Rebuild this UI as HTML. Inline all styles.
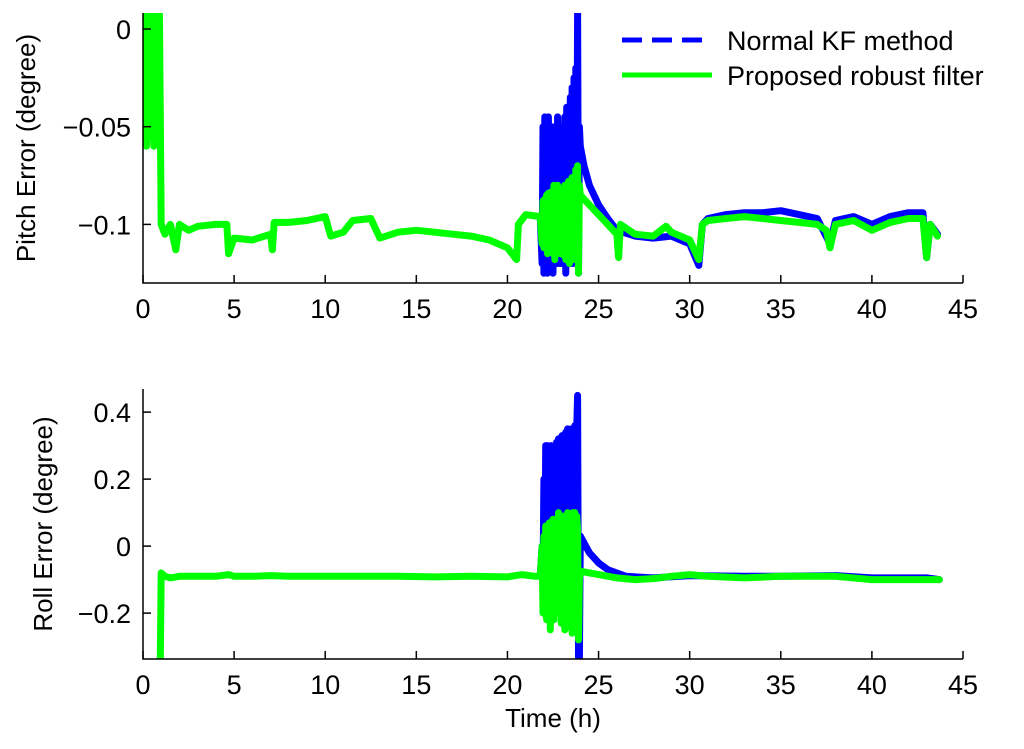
<!DOCTYPE html>
<html><head><meta charset="utf-8"><style>
body{margin:0;background:#fff;}
svg text{font-family:"Liberation Sans",Arial,sans-serif;fill:#000;}
</style></head><body>
<svg id="chart" width="1024" height="744" xmlns="http://www.w3.org/2000/svg">
<g id="top"></g>
<g id="bot"></g>
<g id="legend">
<line x1="622" y1="40" x2="712" y2="40" stroke="#0000ff" stroke-width="5" stroke-dasharray="20,10"/>
<text x="727" y="50" font-size="27">Normal KF method</text>
<line x1="622" y1="75" x2="712" y2="75" stroke="#00ff00" stroke-width="5"/>
<text x="727" y="85" font-size="27">Proposed robust filter</text>
</g>
</svg>
<script>
const xTicks=[0,5,10,15,20,25,30,35,40,45];
const pitchTicks=[0,-0.05,-0.1];
const pitchTickLabels=["0","\u22120.05","\u22120.1"];
const rollTicks=[0.4,0.2,0,-0.2];
const rollTickLabels=["0.4","0.2","0","\u22120.2"];
const burstT=[21.9,21.95,22.0,22.05,22.1,22.15,22.2,22.25,22.3,22.35,22.4,22.45,22.5,22.55,22.6,22.65,22.7,22.75,22.8,22.85,22.9,22.95,23.0,23.05,23.1,23.15,23.2,23.25,23.3,23.35,23.4,23.45,23.5,23.55,23.6,23.65,23.7,23.75,23.8,23.85,23.9,23.95,24.0];
const pitchBlueBurst=[-0.12,-0.05,-0.125,-0.045,-0.12,-0.05,-0.125,-0.045,-0.12,-0.055,-0.12,-0.05,-0.125,-0.06,-0.12,-0.05,-0.12,-0.045,-0.12,-0.06,-0.12,-0.055,-0.12,-0.05,-0.12,-0.045,-0.125,-0.04,-0.12,-0.04,-0.12,-0.035,-0.12,-0.03,-0.12,-0.025,-0.11,-0.02,-0.11,0.01,-0.125,-0.05,-0.06];
const pitchGreenBurst=[-0.11,-0.088,-0.112,-0.087,-0.11,-0.085,-0.115,-0.084,-0.11,-0.086,-0.112,-0.083,-0.115,-0.08,-0.118,-0.085,-0.112,-0.08,-0.113,-0.085,-0.115,-0.083,-0.112,-0.082,-0.116,-0.08,-0.118,-0.082,-0.115,-0.078,-0.12,-0.08,-0.115,-0.076,-0.118,-0.078,-0.115,-0.072,-0.11,-0.07,-0.125,-0.08,-0.085];
const rollBlueBurst=[0.0,-0.1,0.2,-0.12,0.3,-0.12,0.3,-0.15,0.28,-0.14,0.3,-0.16,0.29,-0.14,0.3,-0.16,0.31,-0.15,0.32,-0.2,0.3,-0.17,0.33,-0.18,0.32,-0.2,0.34,-0.18,0.35,-0.2,0.33,-0.18,0.35,-0.2,0.34,-0.2,0.36,-0.18,0.35,0.45,-0.34,-0.34,0.03];
const rollGreenBurst=[0.0,-0.2,0.03,-0.15,0.06,-0.22,0.05,-0.15,0.07,-0.25,0.04,-0.18,0.08,-0.22,0.05,-0.2,0.08,-0.18,0.1,-0.2,0.06,-0.23,0.09,-0.2,0.07,-0.25,0.06,-0.2,0.1,-0.24,0.08,-0.2,0.09,-0.26,0.1,-0.2,0.1,-0.22,0.09,0.05,-0.28,-0.1,-0.075];
const pitchGreenPreT=[0,0.1,0.2,0.3,0.4,0.5,0.6,0.7,0.8,0.9,1.0,1.2,1.5,1.8,2,2.5,3,4,4.6,4.7,5,6,7,7.1,7.2,8,9,10,10.3,11,11.5,12.5,13,14,15,16,17,18,19,20,20.5,20.6,21,21.8];
const pitchGreenPreV=[-0.05,0.01,-0.06,0.01,-0.055,0.01,-0.06,0.01,-0.055,0.01,-0.1,-0.105,-0.1,-0.113,-0.1,-0.103,-0.101,-0.1,-0.1,-0.115,-0.107,-0.108,-0.105,-0.113,-0.099,-0.099,-0.098,-0.096,-0.106,-0.104,-0.098,-0.097,-0.107,-0.104,-0.103,-0.104,-0.105,-0.106,-0.108,-0.112,-0.118,-0.1,-0.095,-0.096];
const pitchGreenPostT=[24.5,25,25.5,26,26.1,26.2,27,28,28.7,29,30,30.5,30.7,31,32,33,34,35,36,37,37.5,37.7,38,39,40,41,42,42.8,43,43.2,43.6];
const pitchGreenPostV=[-0.09,-0.095,-0.1,-0.105,-0.117,-0.1,-0.105,-0.106,-0.101,-0.104,-0.108,-0.118,-0.1,-0.098,-0.097,-0.096,-0.097,-0.098,-0.099,-0.1,-0.103,-0.112,-0.1,-0.098,-0.103,-0.099,-0.097,-0.097,-0.117,-0.1,-0.106];
const pitchBluePreT=[21.8];
const pitchBluePreV=[-0.096];
const pitchBluePostT=[24.2,24.5,25,25.5,26,27,28,29,30,30.5,30.7,31,32,33,34,35,36,37,37.7,38,39,40,41,42,42.8,43,43.2,43.6];
const pitchBluePostV=[-0.07,-0.08,-0.09,-0.097,-0.103,-0.106,-0.107,-0.106,-0.11,-0.121,-0.1,-0.097,-0.095,-0.094,-0.094,-0.093,-0.095,-0.097,-0.11,-0.098,-0.096,-0.1,-0.096,-0.094,-0.094,-0.117,-0.1,-0.105];
const rollGreenPreT=[0.9,0.95,1.0,1.2,1.5,2,3,4,4.7,5,6,7,8,10,12,14,16,18,20,20.8,21.5,21.8];
const rollGreenPreV=[-0.34,-0.34,-0.08,-0.09,-0.095,-0.09,-0.09,-0.09,-0.085,-0.09,-0.09,-0.088,-0.09,-0.09,-0.09,-0.09,-0.092,-0.09,-0.092,-0.085,-0.09,-0.09];
const rollGreenPostT=[24.5,25,26,27,28,29,30,31,33,35,38,40,43,43.7];
const rollGreenPostV=[-0.08,-0.085,-0.095,-0.1,-0.097,-0.09,-0.085,-0.09,-0.095,-0.09,-0.09,-0.1,-0.1,-0.1];
const rollBluePreT=[21.8];
const rollBluePreV=[-0.09];
const rollBluePostT=[24.5,25,25.5,26.5,28,30,33,35,38,40,43,43.7];
const rollBluePostV=[-0.02,-0.05,-0.07,-0.09,-0.095,-0.088,-0.09,-0.09,-0.088,-0.095,-0.095,-0.1];

const NS="http://www.w3.org/2000/svg";
function mk(tag,attrs,parent){const e=document.createElementNS(NS,tag);for(const k in attrs)e.setAttribute(k,attrs[k]);parent.appendChild(e);return e;}
function panel(g,top,bottom,vmax,vmin,ticks,labels,ylabel,prefix,series){
  const L=143,R=963;
  const xs=t=>L+(t/45)*(R-L);
  const ys=v=>top+(vmax-v)/(vmax-vmin)*(bottom-top);
  const cp=mk('clipPath',{id:prefix+'clip'},g);
  mk('rect',{x:L,y:top,width:R-L,height:bottom-top},cp);
  series.forEach(s=>{
    let d='';s[0].forEach((t,i)=>{d+=(i?'L':'M')+xs(t).toFixed(1)+','+ys(s[1][i]).toFixed(1);});
    const p=mk('path',{d:d,fill:'none',stroke:s[2],'stroke-width':7,'stroke-linejoin':'round','stroke-linecap':'round','clip-path':'url(#'+prefix+'clip)'},g);
    
    
  });
  const ax=mk('path',{d:`M${L},${top}V${bottom}H${R}`,fill:'none',stroke:'#000','stroke-width':1.5},g);
  
  
  xTicks.forEach(t=>{
    mk('line',{x1:xs(t),x2:xs(t),y1:bottom,y2:bottom-8,stroke:'#000','stroke-width':1.5},g);
    const tx=mk('text',{x:xs(t),y:bottom+35,'font-size':27,'text-anchor':'middle'},g);tx.textContent=t;
    
    
  });
  ticks.forEach((v,i)=>{
    mk('line',{x1:L,x2:L+8,y1:ys(v),y2:ys(v),stroke:'#000','stroke-width':1.5},g);
    const tx=mk('text',{x:L-12,y:ys(v)+10,'font-size':27,'text-anchor':'end'},g);tx.textContent=labels[i];
    
    
  });
  const yl=mk('text',{x:0,y:0,'font-size':26,'text-anchor':'middle',transform:`translate(${prefix==='p'?35:52},${(top+bottom)/2}) rotate(-90)`},g);
  yl.textContent=ylabel;
  
  
}
const cat=(a,b,c)=>a.concat(b,c);
panel(document.getElementById('top'),13,283,0.0082,-0.130,pitchTicks,pitchTickLabels,'Pitch Error (degree)','p',[
 [cat(pitchBluePreT,burstT,pitchBluePostT),cat(pitchBluePreV,pitchBlueBurst,pitchBluePostV),'#0000ff','blue'],
 [cat(pitchGreenPreT,burstT,pitchGreenPostT),cat(pitchGreenPreV,pitchGreenBurst,pitchGreenPostV),'#00ff00','green']]);
panel(document.getElementById('bot'),389,659,0.469,-0.337,rollTicks,rollTickLabels,'Roll Error (degree)','r',[
 [cat(rollBluePreT,burstT,rollBluePostT),cat(rollBluePreV,rollBlueBurst,rollBluePostV),'#0000ff','blue'],
 [cat(rollGreenPreT,burstT,rollGreenPostT),cat(rollGreenPreV,rollGreenBurst,rollGreenPostV),'#00ff00','green']]);
const xl=mk('text',{x:553,y:727,'font-size':26,'text-anchor':'middle'},document.getElementById('chart'));
xl.textContent='Time (h)';


</script>
</body></html>
